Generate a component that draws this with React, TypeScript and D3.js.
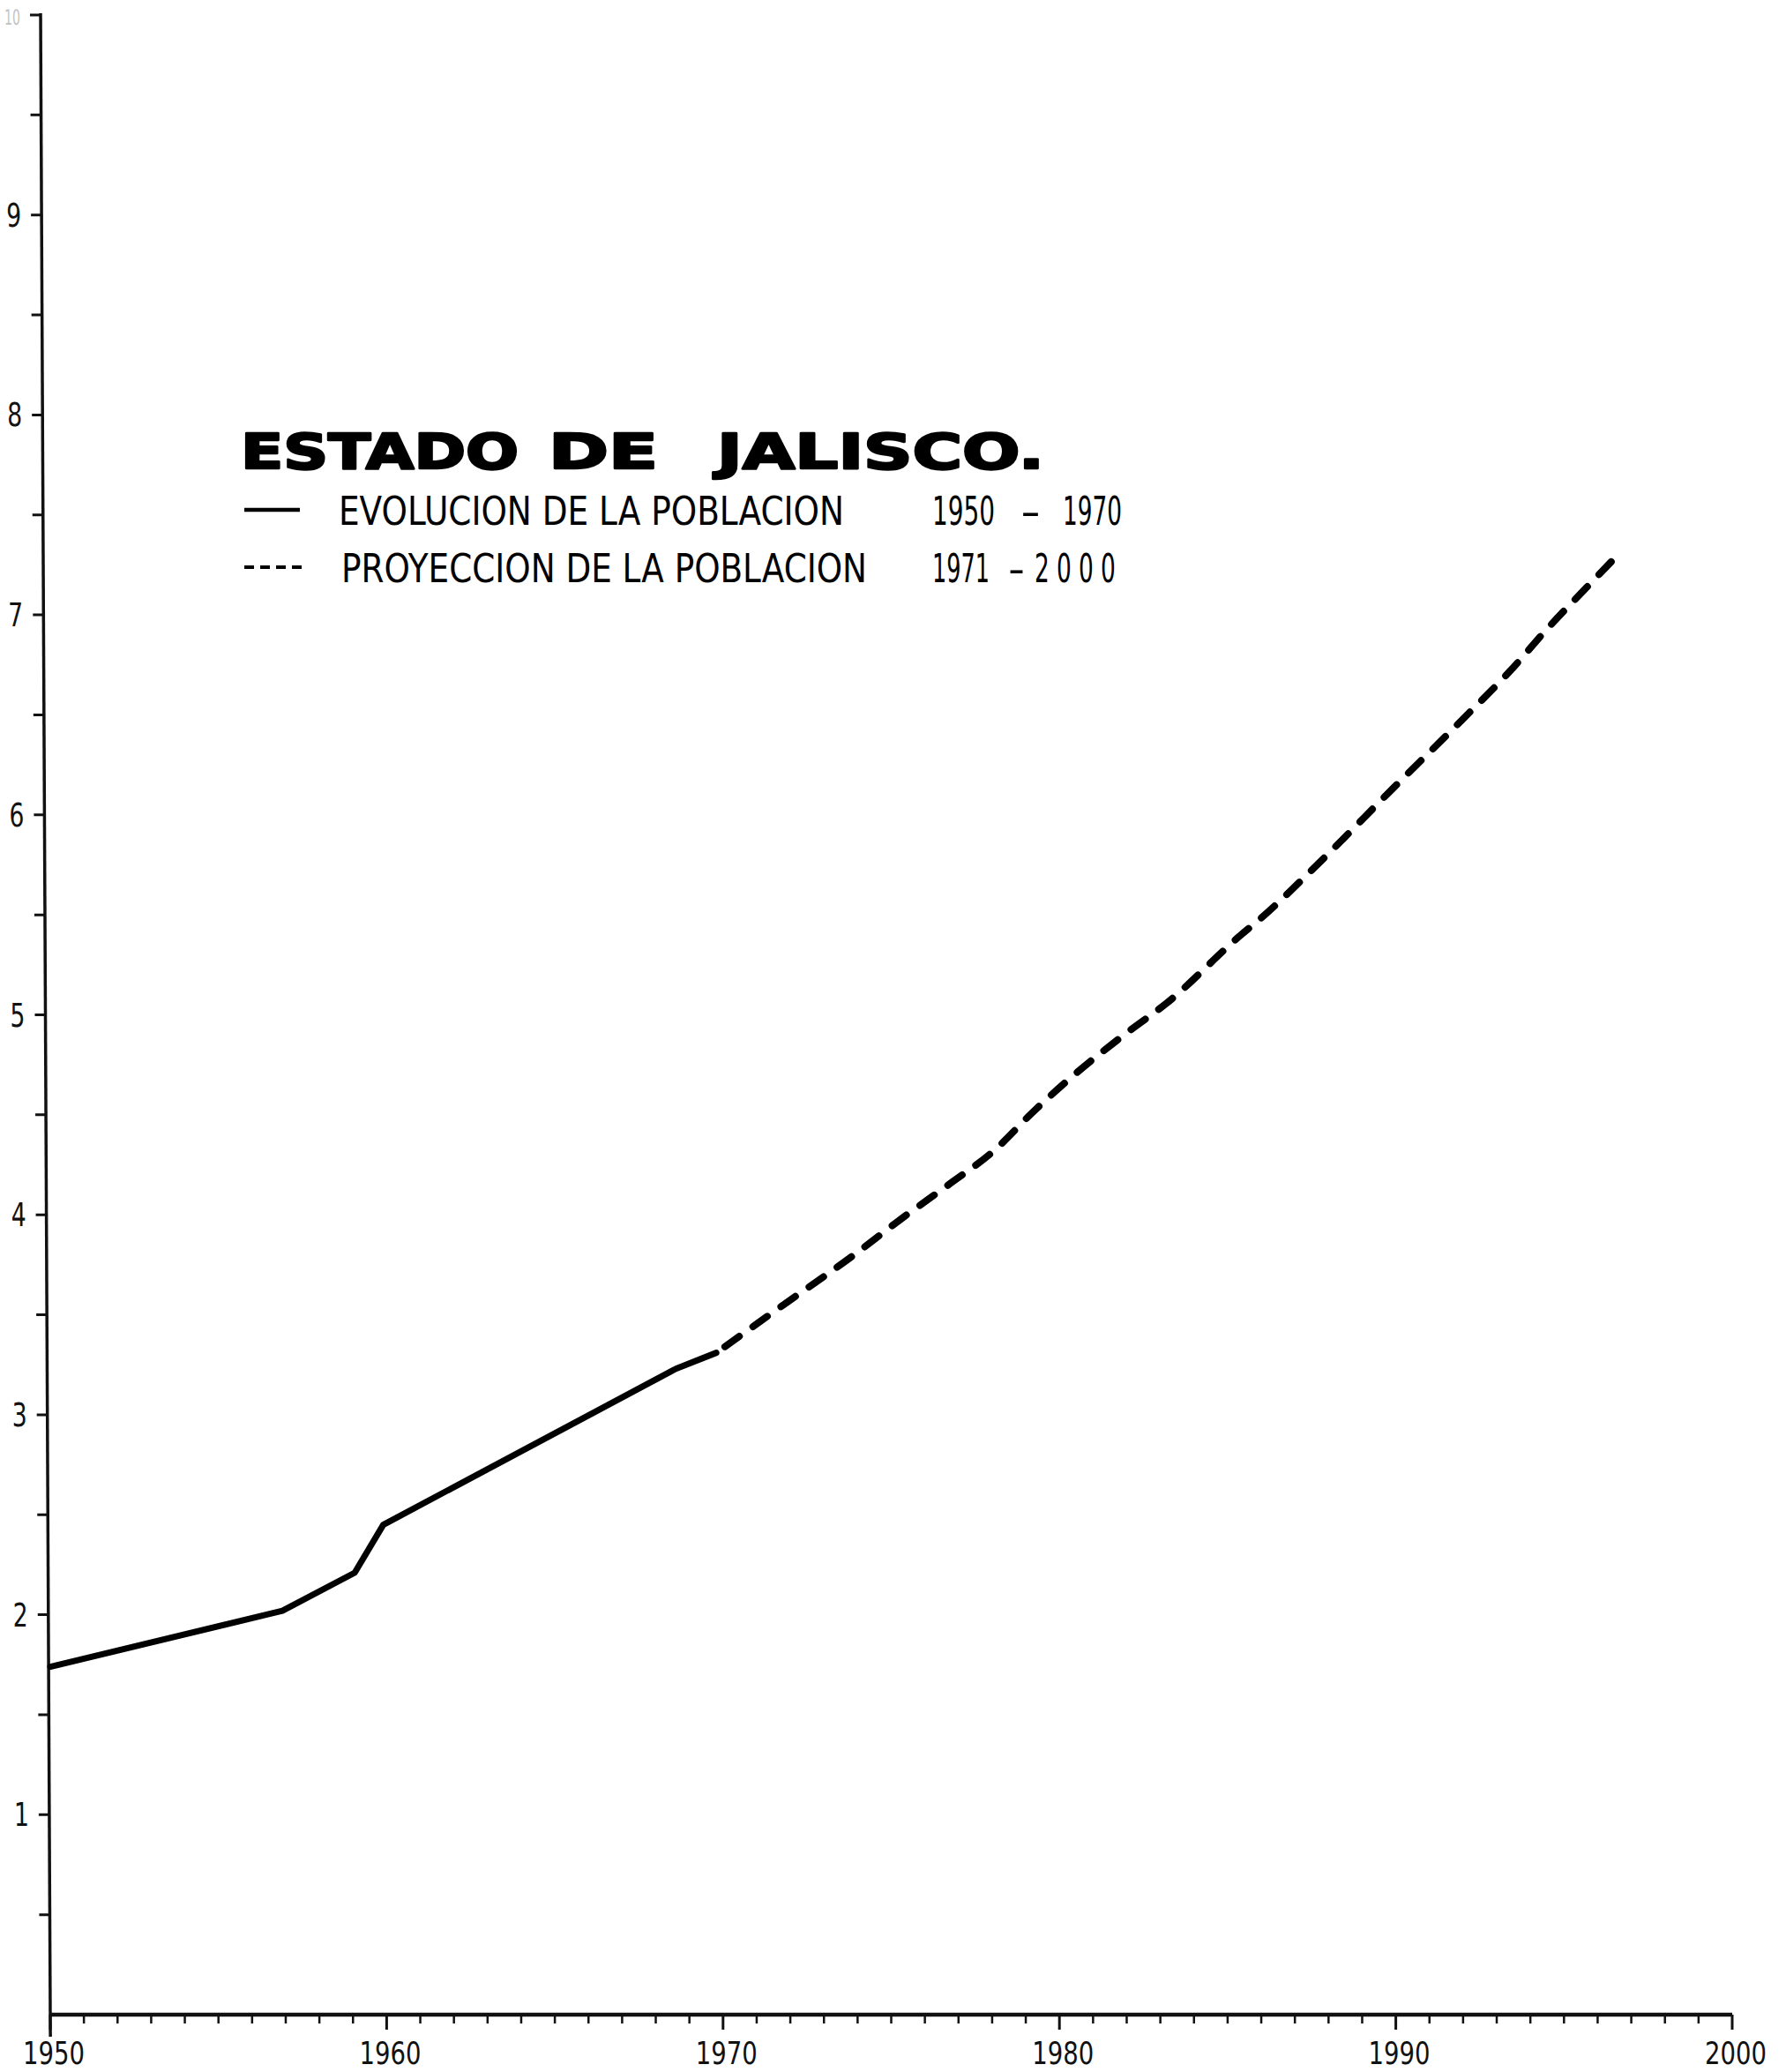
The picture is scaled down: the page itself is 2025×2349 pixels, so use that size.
import React, { useLayoutEffect, useRef, useState } from 'react';
import * as d3 from 'd3';

// ---- data ----
const evolYears = [1950, 1956.9, 1959.05, 1959.9, 1968.6, 1969.8];
const evolValues = [1.74, 2.02, 2.21, 2.45, 3.23, 3.31];

const projYears = [1969.8, 1971.8, 1973.9, 1975.3, 1976.7, 1978.05, 1979.25, 1980.3, 1982.0, 1983.2, 1985.4, 1985.9, 1987.9, 1989.9, 1992.0, 1993.4, 1994.5, 1995.8, 1996.6];
const projValues = [3.31, 3.55, 3.80, 3.98, 4.15, 4.32, 4.52, 4.68, 4.91, 5.06, 5.40, 5.47, 5.79, 6.13, 6.48, 6.72, 6.93, 7.16, 7.30];

const xTickYears = [1950, 1960, 1970, 1980, 1990, 2000];
const xTickLabels = ['1950', '1960', '1970', '1980', '1990', '2000'];
const yTickValues = [1, 2, 3, 4, 5, 6, 7, 8, 9, 10];
const yTickLabels = ['1', '2', '3', '4', '5', '6', '7', '8', '9', '10'];

const titleWords = ['ESTADO', 'DE', 'JALISCO.'];
const legendLabels = ['EVOLUCION DE LA POBLACION', 'PROYECCION DE LA POBLACION'];
const legendPeriods = [['1950', '-', '1970'], ['1971', '-', '2000']];

// ---- layout ----
const W = 2025;
const H = 2349;
const FONT = '"DejaVu Sans", "Liberation Sans", sans-serif';

type FitProps = {
  x: number;
  y: number;
  w: number;
  anchor?: 'start' | 'middle' | 'end';
  children: string;
  [k: string]: any;
};

// text squeezed/stretched horizontally to a target width (condensed lettering)
function FitText({ x, y, w, anchor = 'start', children, ...rest }: FitProps) {
  const ref = useRef<SVGTextElement>(null);
  const [sx, setSx] = useState(0.6);
  useLayoutEffect(() => {
    if (ref.current) {
      const len = ref.current.getComputedTextLength();
      if (len > 0) setSx(w / len);
    }
  }, [w, children]);
  return (
    <text ref={ref} transform={`translate(${x},${y}) scale(${sx},1)`} textAnchor={anchor} {...rest}>
      {children}
    </text>
  );
}

export default function App() {
  const x = d3.scaleLinear().domain([1950, 2000]).range([57, 1964]);
  const y = d3.scaleLinear().domain([0, 10]).range([2284, 17]);

  const evol = evolYears.map((yr, i) => [yr, evolValues[i]] as [number, number]);
  const proj = projYears.map((yr, i) => [yr, projValues[i]] as [number, number]);
  const lineSharp = d3.line<[number, number]>().x(d => x(d[0])).y(d => y(d[1])).curve(d3.curveLinear);
  const lineSmooth = d3.line<[number, number]>().x(d => x(d[0])).y(d => y(d[1])).curve(d3.curveMonotoneX);

  const minorYears = d3.range(1951, 2000).filter(v => v % 10 !== 0);
  const halfTicks = d3.range(0.5, 10, 1);
  const axisX = x(1950);
  const axisY = y(0);

  // slight lean of the hand-drawn vertical axis (top leans left)
  const skewDeg = (Math.atan(11 / 2270) * 180) / Math.PI;

  const titlePos = [
    { x: 273, w: 315 },
    { x: 622, w: 124 },
    { x: 813, w: 371 },
  ];
  const periodPos = [
    [{ x: 1057, w: 71 }, { x: 1157, w: 23 }, { x: 1205, w: 67 }],
    [{ x: 1057, w: 65 }, { x: 1143, w: 19 }, { x: 1173, w: 100 }],
  ];
  const legendY = [595, 660];
  const legendTextX = [384, 387];
  const legendTextW = [573, 596];

  return (
    <svg
      width={W}
      height={H}
      viewBox={`0 0 ${W} ${H}`}
      style={{ position: 'absolute', left: 0, top: 0, background: '#ffffff' }}
    >
      <rect x={0} y={0} width={W} height={H} fill="#ffffff" />

      {/* Y axis */}
      <g transform={`translate(${axisX},${axisY}) skewX(${skewDeg}) translate(${-axisX},${-axisY})`}>
        <line x1={axisX} x2={axisX} y1={axisY + 25} y2={y(10) - 2} stroke="#111" strokeWidth={3.5} />
        {halfTicks.map(v => (
          <line key={'h' + v} x1={axisX - 12} x2={axisX} y1={y(v)} y2={y(v)} stroke="#111" strokeWidth={3} />
        ))}
        {yTickValues.map((v, i) => {
          const top = v === 10;
          return (
            <g key={'y' + v}>
              <line x1={axisX - 12} x2={axisX} y1={y(v)} y2={y(v)} stroke="#111" strokeWidth={3} />
              <FitText
                x={axisX - 23}
                y={top ? y(v) + 11 : y(v) + 13}
                w={top ? 18 : 17}
                anchor="end"
                fontFamily={FONT}
                fontSize={top ? 24 : 37}
                fill={top ? '#c4c4c4' : '#111'}
              >
                {yTickLabels[i]}
              </FitText>
            </g>
          );
        })}
      </g>

      {/* X axis */}
      <line x1={axisX} x2={x(2000)} y1={axisY} y2={axisY} stroke="#111" strokeWidth={4.5} />
      {minorYears.map(v => (
        <line key={'m' + v} x1={x(v)} x2={x(v)} y1={axisY} y2={axisY + 10} stroke="#111" strokeWidth={2.5} />
      ))}
      {xTickYears.map((v, i) => (
        <g key={'x' + v}>
          <line x1={x(v)} x2={x(v)} y1={axisY} y2={axisY + 17} stroke="#111" strokeWidth={3} />
          <FitText
            x={x(v) + 4}
            y={2340}
            w={70}
            anchor="middle"
            fontFamily={FONT}
            fontSize={35}
            fill="#111"
          >
            {xTickLabels[i]}
          </FitText>
        </g>
      ))}

      {/* Data lines */}
      <path d={lineSharp(evol) || ''} fill="none" stroke="#000" strokeWidth={7} strokeLinejoin="round" strokeLinecap="round" />
      <path
        d={lineSmooth(proj) || ''}
        fill="none"
        stroke="#000"
        strokeWidth={8}
        strokeDasharray="20 19"
        strokeDashoffset={-12}
        strokeLinecap="round"
      />

      {/* Title */}
      {titleWords.map((w, i) => (
        <FitText
          key={w}
          x={titlePos[i].x}
          y={531}
          w={titlePos[i].w}
          fontFamily={FONT}
          fontWeight="bold"
          fontSize={56}
          fill="#000"
          stroke="#000"
          strokeWidth={2.5}
          strokeLinejoin="round"
        >
          {w}
        </FitText>
      ))}

      {/* Legend */}
      <line x1={277} x2={340} y1={578} y2={578} stroke="#000" strokeWidth={4.5} />
      <line x1={277} x2={344} y1={643} y2={643} stroke="#000" strokeWidth={4} strokeDasharray="11 7" />
      {legendLabels.map((lab, i) => (
        <g key={lab}>
          <FitText
            x={legendTextX[i]}
            y={legendY[i]}
            w={legendTextW[i]}
            fontFamily={FONT}
            fontSize={45}
            fill="#000"
          >
            {lab}
          </FitText>
          {legendPeriods[i].map((p, j) => (
            <FitText
              key={j}
              x={periodPos[i][j].x}
              y={legendY[i]}
              w={periodPos[i][j].w}
              fontFamily={FONT}
              fontSize={45}
              letterSpacing={i === 1 && j === 2 ? 14 : 0}
              fill="#000"
            >
              {p}
            </FitText>
          ))}
        </g>
      ))}
    </svg>
  );
}
